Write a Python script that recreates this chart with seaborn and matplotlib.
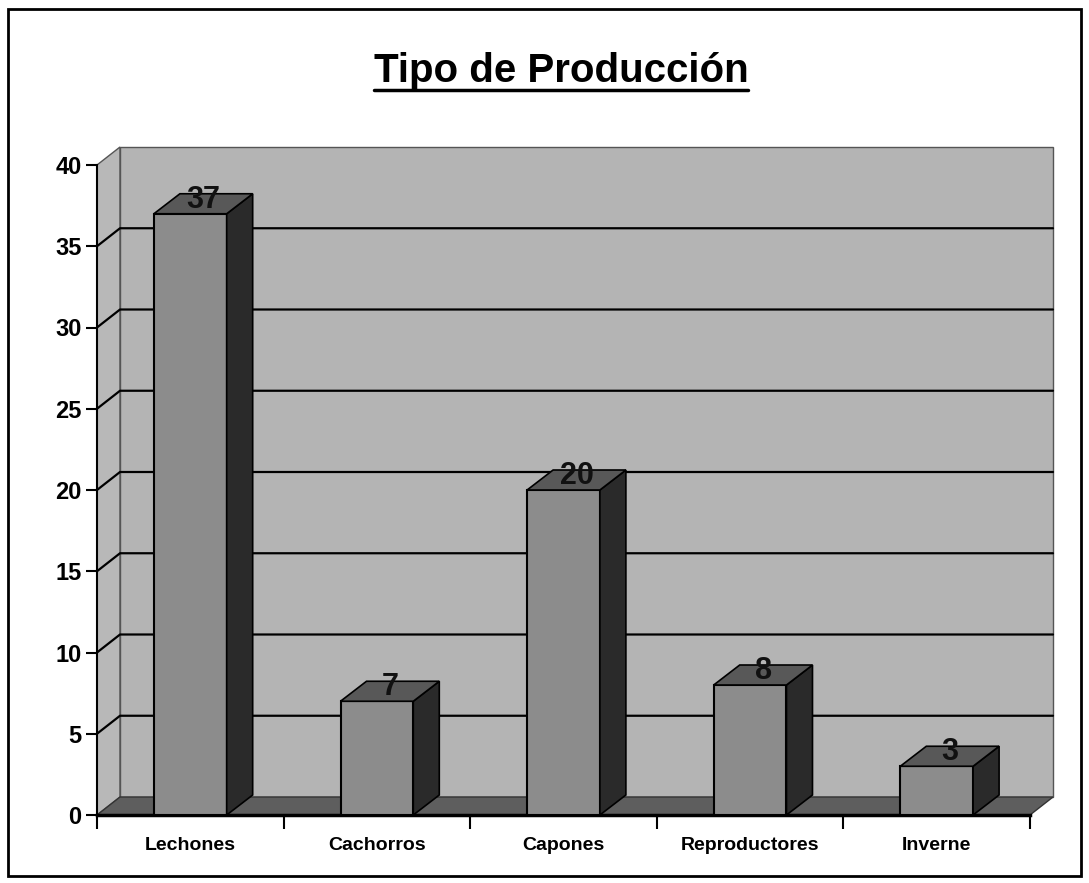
import matplotlib
matplotlib.use("Agg")
import matplotlib.pyplot as plt
import seaborn as sns
from matplotlib.patches import Polygon, Rectangle
from matplotlib.lines import Line2D
from matplotlib.transforms import IdentityTransform

# data
categorias = ["Lechones", "Cachorros", "Capones", "Reproductores", "Inverne"]
valores = [37, 7, 20, 8, 3]
y_ticks = [0, 5, 10, 15, 20, 25, 30, 35, 40]
titulo = "Tipo de Producción"

sns.set_theme(style="white")
plt.rcParams["font.family"] = ["Liberation Sans", "DejaVu Sans"]

W, H = 1089, 883
fig = plt.figure(figsize=(W / 100, H / 100), dpi=100)
ax = fig.add_axes([97 / W, (H - 815) / H, 933 / W, 650 / H])
ax.set_facecolor("none")
ax.set_zorder(2)  # bars above the walls/floor drawn on the figure

sns.barplot(x=categorias, y=valores, color="#8c8c8c", width=0.39,
            edgecolor="black", linewidth=1.5, saturation=1, ax=ax, zorder=3)
ax.set_xlim(-0.5, len(categorias) - 0.5)
ax.set_ylim(0, 40)
ax.set_xlabel("")
ax.set_ylabel("")

ident = IdentityTransform()
wall_dx, wall_dy = 23, 18   # depth of the walls in pixels
bar_dx, bar_dy = 26, 20     # depth of the bars in pixels


def px(x, y):
    return ax.transData.transform((x, y))


def poly(pts, fc, zorder, ec="black", lw=1.2):
    p = Polygon(pts, closed=True, facecolor=fc, edgecolor=ec, linewidth=lw,
                transform=ident, zorder=zorder, clip_on=False)
    fig.add_artist(p)


x_lo, x_hi = -0.5, len(categorias) - 0.5
fl = px(x_lo, 0)
fr = px(x_hi, 0)
tl = px(x_lo, 40)

# left wall and back wall
poly([fl, tl, tl + (wall_dx, wall_dy), fl + (wall_dx, wall_dy)], "#b8b8b8", 0.5, ec="#555555", lw=1)
poly([fl + (wall_dx, wall_dy), fr + (wall_dx, wall_dy),
      px(x_hi, 40) + (wall_dx, wall_dy), tl + (wall_dx, wall_dy)], "#b4b4b4", 0.5, ec="#555555", lw=1)

# gridlines on the walls
for t in y_ticks[1:-1]:
    a = px(x_lo, t)
    b = px(x_hi, t)
    fig.add_artist(Line2D([a[0], a[0] + wall_dx, b[0] + wall_dx],
                          [a[1], a[1] + wall_dy, b[1] + wall_dy],
                          color="black", lw=1.6, transform=ident, zorder=1))

# floor
poly([fl, fr, fr + (wall_dx, wall_dy), fl + (wall_dx, wall_dy)], "#5e5e5e", 1.5, ec="#333333", lw=1)

# 3d faces of the bars and value labels
for p, v in zip(ax.patches[:len(valores)], valores):
    x0, w = p.get_x(), p.get_width()
    b0 = px(x0, 0)
    b1 = px(x0 + w, 0)
    t0 = px(x0, v)
    t1 = px(x0 + w, v)
    d = (bar_dx, bar_dy)
    poly([b1, t1, t1 + d, b1 + d], "#2a2a2a", 3.2)
    poly([t0, t1, t1 + d, t0 + d], "#585858", 3.2)
    cx = (t0[0] + t1[0]) / 2 + bar_dx / 2
    fig.text(cx, t0[1] + 6, str(v), transform=ident, ha="center", va="baseline",
             fontsize=22, fontweight="bold", color="#111111", zorder=6)

# axes styling
for s in ["top", "right"]:
    ax.spines[s].set_visible(False)
ax.spines["left"].set_color("black")
ax.spines["left"].set_linewidth(1.5)
ax.spines["bottom"].set_color("black")
ax.spines["bottom"].set_linewidth(2.5)

ax.set_yticks(y_ticks)
ax.tick_params(axis="y", left=True, length=8, width=1.5, color="black", pad=3,
               labelsize=17)
ax.set_xticks(range(len(categorias)))
ax.set_xticks([i - 0.5 for i in range(len(categorias) + 1)], minor=True)
ax.tick_params(axis="x", which="major", bottom=False, length=0, pad=16, labelsize=14)
ax.tick_params(axis="x", which="minor", bottom=True, length=10, width=1.5, color="black")
for lab in ax.get_yticklabels() + ax.get_xticklabels():
    lab.set_fontweight("bold")
    lab.set_color("black")

# title with underline
tt = fig.text(561 / W, 1 - 82 / H, titulo, ha="center", va="baseline",
              fontsize=29, fontweight="bold", color="black")
fig.canvas.draw()
bb = tt.get_window_extent()
fig.add_artist(Line2D([bb.x0, bb.x1], [H - 90, H - 90], color="black", lw=2.5,
                      transform=ident))

# outer frame
fig.add_artist(Rectangle((8 / W, 1 - 876 / H), 1073 / W, 867 / H, transform=fig.transFigure,
                         fill=False, edgecolor="black", linewidth=2))

fig.savefig("out.png", dpi=100)
